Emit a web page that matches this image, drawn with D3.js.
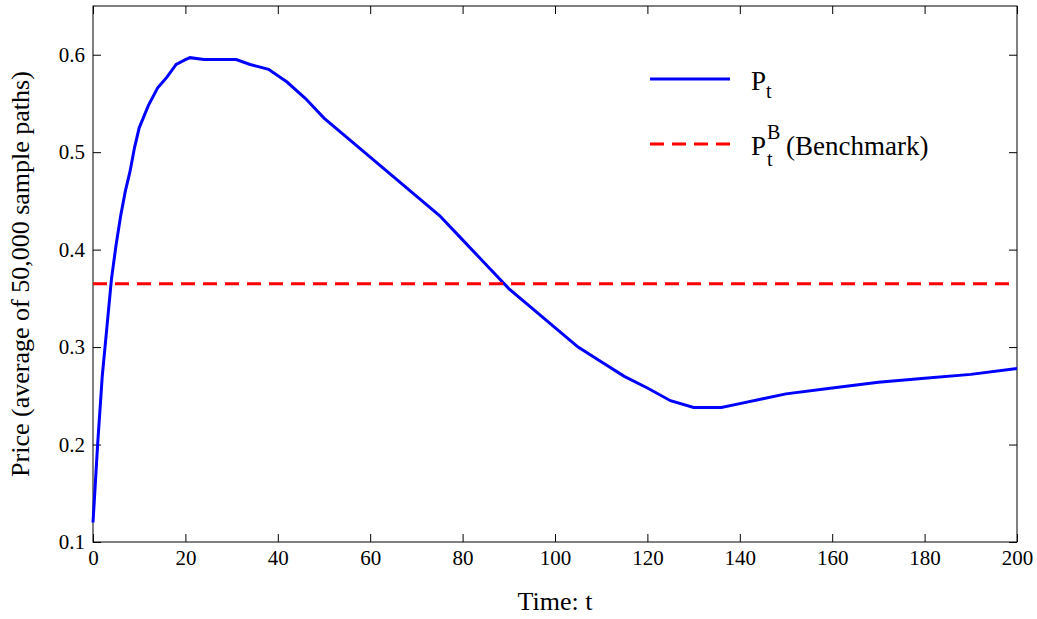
<!DOCTYPE html>
<html><head><meta charset="utf-8">
<script src="https://cdn.jsdelivr.net/npm/d3@7"></script>
<style>body{margin:0;background:#fff}text{font-family:"Liberation Serif","Times New Roman",serif}</style>
</head><body>
<script>
// simulated price path
var times  = [0,1,2,3,4,5,6,7,8,9,10,12,14,16,18,20,21,24,28,31,34,38,42,46,50,55,60,65,70,75,80,85,90,95,100,105,110,115,120,125,130,133,136,140,145,150,160,170,180,190,200];
var prices = [0.12,0.2,0.27,0.32,0.37,0.405,0.435,0.46,0.48,0.505,0.525,0.548,0.566,0.577,0.59,0.595,0.597,0.595,0.595,0.595,0.59,0.585,0.572,0.555,0.535,0.515,0.495,0.475,0.455,0.435,0.41,0.385,0.36,0.34,0.32,0.30,0.285,0.27,0.258,0.245,0.238,0.238,0.238,0.242,0.247,0.252,0.258,0.264,0.268,0.272,0.278];
var benchmark = 0.365;
var xTicks = [0,20,40,60,80,100,120,140,160,180,200];
var yTicks = [0.1,0.2,0.3,0.4,0.5,0.6];

var W = 1037, H = 619;
var m = {top:6, right:20, bottom:77, left:93};
var svg = d3.select("body").append("svg").attr("width",W).attr("height",H);
var x = d3.scaleLinear().domain([0,200]).range([m.left, W-m.right]);
var y = d3.scaleLinear().domain([0.1,0.65]).range([H-m.bottom, m.top]);

var tl = 8;
svg.append("g").attr("transform","translate(0,"+(H-m.bottom)+")")
  .call(d3.axisBottom(x).tickValues(xTicks).tickSize(-tl).tickPadding(8).tickFormat(d3.format("d")));
svg.append("g").attr("transform","translate(0,"+m.top+")")
  .call(d3.axisTop(x).tickValues(xTicks).tickSize(-tl).tickFormat(""));
svg.append("g").attr("transform","translate("+m.left+",0)")
  .call(d3.axisLeft(y).tickValues(yTicks).tickSize(-tl).tickPadding(8).tickFormat(d3.format(".1f")));
svg.append("g").attr("transform","translate("+(W-m.right)+",0)")
  .call(d3.axisRight(y).tickValues(yTicks).tickSize(-tl).tickFormat(""));
svg.selectAll(".domain").remove();
svg.selectAll(".tick line").attr("stroke","#000");
svg.selectAll(".tick text").attr("font-size",21).attr("fill","#000").style("font-family","Liberation Serif");
svg.append("rect").attr("x",m.left).attr("y",m.top).attr("width",W-m.left-m.right).attr("height",H-m.top-m.bottom)
  .attr("fill","none").attr("stroke","#000");

svg.append("path").datum(times)
  .attr("d",d3.line().x(function(d){return x(d);}).y(function(d,i){return y(prices[i]);}))
  .attr("fill","none").attr("stroke","#0000ff").attr("stroke-width",3);
svg.append("line").attr("x1",x(0)).attr("x2",x(200)).attr("y1",y(benchmark)).attr("y2",y(benchmark))
  .attr("stroke","#ff0000").attr("stroke-width",3).attr("stroke-dasharray","14,8");

// legend
svg.append("line").attr("x1",650).attr("x2",730).attr("y1",79).attr("y2",79).attr("stroke","#0000ff").attr("stroke-width",3);
var t1 = svg.append("text").attr("x",751).attr("y",90).attr("font-size",27);
t1.append("tspan").text("P");
t1.append("tspan").attr("dy",8).attr("font-size",20).text("t");
svg.append("line").attr("x1",650).attr("x2",730).attr("y1",144).attr("y2",144).attr("stroke","#ff0000").attr("stroke-width",3).attr("stroke-dasharray","14,8");
svg.append("text").attr("x",751).attr("y",155).attr("font-size",27).text("P");
svg.append("text").attr("x",767).attr("y",166).attr("font-size",20).text("t");
svg.append("text").attr("x",767).attr("y",139).attr("font-size",20).text("B");
svg.append("text").attr("x",786).attr("y",155).attr("font-size",27).text("(Benchmark)");

svg.append("text").attr("x",(m.left+W-m.right)/2).attr("y",610).attr("text-anchor","middle").attr("font-size",26).text("Time: t");
svg.append("text").attr("transform","translate(29,"+((m.top+H-m.bottom)/2)+") rotate(-90)")
  .attr("text-anchor","middle").attr("font-size",26).text("Price (average of 50,000 sample paths)");
</script>
</body></html>
